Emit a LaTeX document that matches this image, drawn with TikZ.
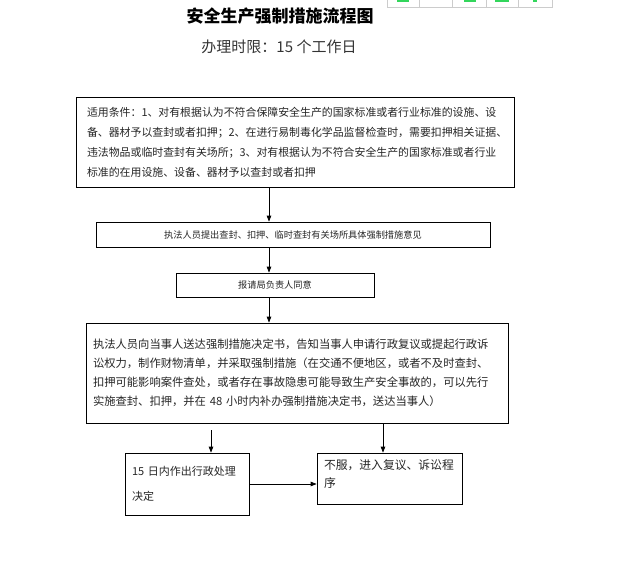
\documentclass[tikz,border=0pt]{standalone}
\usepackage{fontspec}
\setmainfont{Noto Sans CJK SC}
\usetikzlibrary{arrows.meta,shadows}

\tikzset{
  flowbox/.style={draw=black, line width=0.7pt, fill=white, inner xsep=7pt, inner ysep=0pt,
    drop shadow={shadow xshift=1pt, shadow yshift=-1pt, fill=black!45, opacity=1},
    text=black!85},
  flowarrow/.style={line width=0.7pt, -{Triangle[length=6pt,width=4.5pt]}}
}

\begin{document}
\begin{tikzpicture}[x=1pt,y=-1pt]
  \useasboundingbox (0,0) rectangle (638,565);

  %title
  \node[font={\fontsize{17}{20}\selectfont\bfseries}] (title) at (280,16) {安全生产强制措施流程图};
  \node[text=black!80, font={\fontsize{15}{18}\selectfont}] (limit) at (279,47) {办理时限：15 个工作日};

  %conditions
  \node[flowbox, align=left, text width=416pt, minimum width=438pt, minimum height=90pt, inner xsep=11pt,
    font={\fontsize{10.9}{20}\selectfont}] (cond) at (295,142) {%
    适用条件：1、对有根据认为不符合保障安全生产的国家标准或者行业标准的设施、设\\
    备、器材予以查封或者扣押；2、在进行易制毒化学品监督检查时，需要扣押相关证据、\\
    违法物品或临时查封有关场所；3、对有根据认为不符合安全生产的国家标准或者行业\\
    标准的在用设施、设备、器材予以查封或者扣押};

  %proposal
  \node[flowbox, align=center, minimum width=394pt, minimum height=25pt, font={\fontsize{9.2}{11}\selectfont}]
    (propose) at (293,234.5) {执法人员提出查封、扣押、临时查封有关场所具体强制措施意见};

  %approval
  \node[flowbox, align=center, minimum width=198pt, minimum height=24pt, font={\fontsize{9.2}{11}\selectfont}]
    (approve) at (275,285) {报请局负责人同意};

  %notice
  \node[flowbox, align=left, text width=408pt, minimum width=422pt, minimum height=100pt,
    font={\fontsize{11.3}{19}\selectfont}] (notice) at (297,373) {%
    执法人员向当事人送达强制措施决定书，告知当事人申请行政复议或提起行政诉\\
    讼权力，制作财物清单，并采取强制措施（在交通不便地区，或者不及时查封、\\
    扣押可能影响案件查处，或者存在事故隐患可能导致生产安全事故的，可以先行\\
    实施查封、扣押，并在 48 小时内补办强制措施决定书，送达当事人）};

  %decision
  \node[flowbox, align=left, text width=110pt, minimum width=124pt, minimum height=62pt,
    font={\fontsize{11}{25}\selectfont}] (decide) at (187,484) {15 日内作出行政处理\\决定};

  %appeal
  \node[flowbox, align=left, text width=131pt, minimum width=145pt, minimum height=51pt,
    font={\fontsize{11.8}{18}\selectfont}] (appeal) at (389.5,478.5) {不服，进入复议、诉讼程\\序\\[-9pt]\mbox{}};

  %connectors
  \coordinate (mainx) at (269,0);
  \coordinate (leftx) at (211,430);
  \coordinate (rightx) at (383,0);
  \coordinate (sidey) at (0,484);
  \draw[flowarrow] (cond.south -| mainx) -- (propose.north -| mainx);
  \draw[flowarrow] (propose.south -| mainx) -- (approve.north -| mainx);
  \draw[flowarrow] (approve.south -| mainx) -- (notice.north -| mainx);
  \draw[flowarrow] (leftx) -- (leftx |- decide.north);
  \draw[flowarrow] (notice.south -| rightx) -- (appeal.north -| rightx);
  \draw[flowarrow] (decide.east |- sidey) -- (appeal.west |- sidey);

  %toolbar strip (cut off at top)
  \draw[black!20, line width=0.8pt] (387,-2) -- (387,7) -- (552,7) -- (552,-2);
  \foreach \x in {419,452,486,518}
    \draw[black!20, line width=0.8pt] (\x,-2) -- (\x,7);
  \foreach \a/\b in {397/409,464/476,495/509,533/537}
    \fill[green!60!teal!80] (\a,0) rectangle (\b,1.5);
\end{tikzpicture}
\end{document}
